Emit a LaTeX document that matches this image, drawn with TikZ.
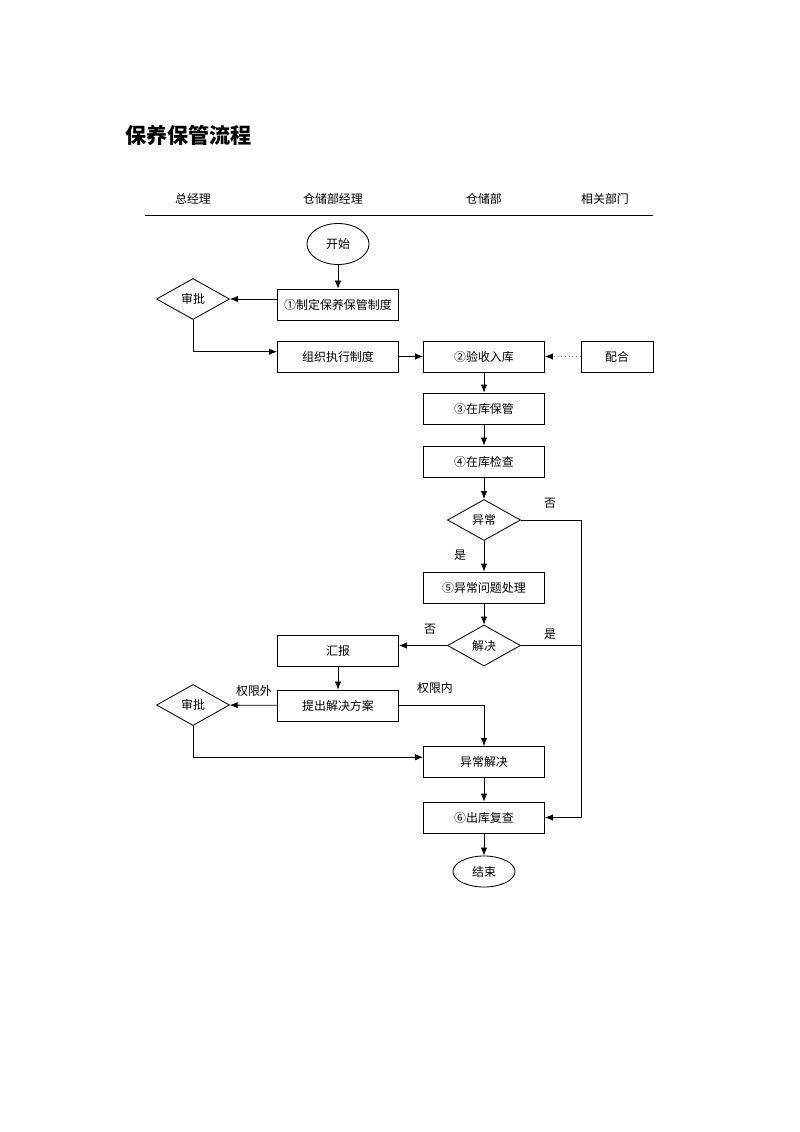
\documentclass[tikz,border=0pt]{standalone}
\usepackage{fontspec}
\setmainfont{Noto Sans CJK SC}
\usetikzlibrary{shapes.geometric,arrows.meta}
\tikzset{
  box/.style={draw,minimum width=3.025cm,minimum height=0.775cm,inner sep=0pt},
  choice/.style={draw,diamond,minimum width=1.825cm,minimum height=1.025cm,inner sep=0pt},
  term/.style={draw,ellipse,minimum width=1.55cm,minimum height=1.025cm,inner sep=0pt}
}
\begin{document}
\begin{tikzpicture}[x=0.025cm,y=-0.025cm,line width=0.6pt,
    font=\fontsize{8.5}{10}\selectfont,>={Latex[length=2mm,width=1.6mm]}]
  \useasboundingbox (0,0) rectangle (800,1132);
  \node[anchor=west,font=\fontsize{15}{18}\selectfont\bfseries] (title) at (120,135) {保养保管流程};
  % lanes
  \draw
    (193,199) node (lane1){总经理}
    (333,199) node (lane2){仓储部经理}
    (484,199) node (lane3){仓储部}
    (605,199) node (lane4){相关部门};
  \draw[line width=0.5pt] (145,215) -- (653,215);
  % steps
  \draw
    (338,244) node[term] (start){开始}
    (338,304.5) node[box] (s1){①制定保养保管制度}
    (193,299) node[choice] (ok1){审批}
    (338,356.5) node[box] (org){组织执行制度}
    (484,356.5) node[box] (s2){②验收入库}
    (617,356.5) node[box,minimum width=1.8cm] (help){配合}
    (484,408.5) node[box] (s3){③在库保管}
    (484,461.5) node[box] (s4){④在库检查}
    (484,520) node[choice] (odd){异常}
    (484,587.5) node[box] (s5){⑤异常问题处理}
    (484,645.5) node[choice] (fix){解决}
    (338,650.5) node[box] (rep){汇报}
    (338,705.5) node[box] (plan){提出解决方案}
    (193,705) node[choice] (ok2){审批}
    (484,762) node[box] (solve){异常解决}
    (484,817.5) node[box] (s6){⑥出库复查}
    (484,871.5) node[term,minimum height=0.775cm] (stop){结束};
  % branch labels
  \draw
    (550,503) node (no1){否}
    (460,555) node (yes1){是}
    (550,634) node (yes2){是}
    (430,629) node (no2){否}
    (254,691) node (out){权限外}
    (435,688) node (in){权限内};
  \coordinate (rtop) at (581,520);
  \begin{scope}[->]
    \draw (start) to (s1);
    \draw (s1.west |- ok1) to (ok1);
    \draw (ok1) |- ([yshift=0.12cm]org.west);
    \draw (org) to (s2);
    \draw[dotted,gray,-{Latex[length=2mm,width=1.6mm,color=black]}] (help) to (s2);
    \draw (s2) to (s3);
    \draw (s3) to (s4);
    \draw (s4) to (odd);
    \draw (odd) to (s5);
    \draw (s5) to (fix);
    \draw (fix) to (fix -| rep.east);
    \draw (rep) to (plan);
    \draw (plan) to (ok2);
    \draw (plan) -| (solve);
    \draw (ok2) |- ([yshift=0.12cm]solve.west);
    \draw (solve) to (s6);
    \draw (s6) to (stop);
    \draw (odd) -- (rtop) |- (s6);
    \draw[-] (fix) -- (fix -| rtop);
  \end{scope}
\end{tikzpicture}
\end{document}
